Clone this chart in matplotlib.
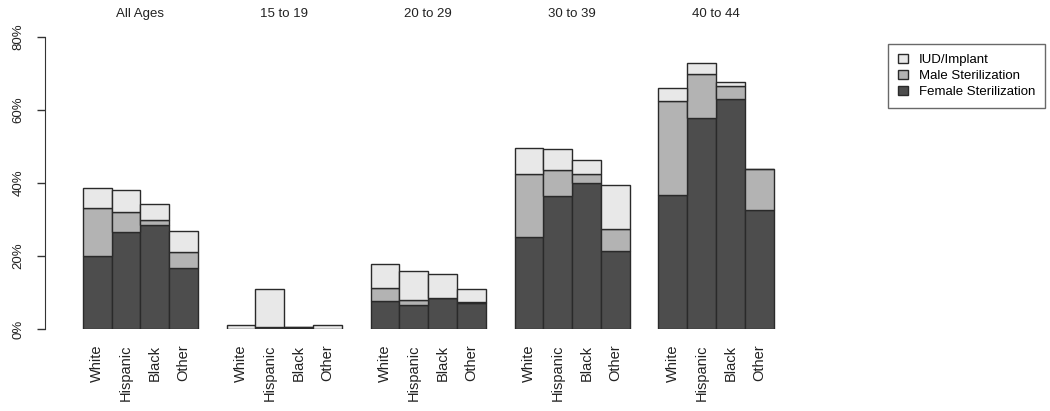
import matplotlib
matplotlib.use('Agg')
import matplotlib.pyplot as plt
import matplotlib.transforms as mtransforms
from matplotlib.patches import Patch
import numpy as np

plt.rcParams['font.family'] = ['Liberation Sans', 'DejaVu Sans']

# ── data (percent) ───────────────────────────────────────────────────────────
age_groups = ['All Ages', '15 to 19', '20 to 29', '30 to 39', '40 to 44']
races = ['White', 'Hispanic', 'Black', 'Other']

female = [[20.1, 26.5, 28.5, 16.7],
          [0.1, 0.5, 0.4, 0.0],
          [7.8, 6.6, 8.5, 7.1],
          [25.3, 36.4, 39.9, 21.5],
          [36.8, 57.9, 63.1, 32.5]]
male = [[13.0, 5.5, 1.5, 4.5],
        [0.0, 0.0, 0.1, 0.0],
        [3.4, 1.5, 0.0, 0.4],
        [17.2, 7.2, 2.5, 5.8],
        [25.6, 11.8, 3.3, 11.4]]
iud = [[5.6, 6.2, 4.2, 5.7],
       [1.2, 10.6, 0.1, 1.2],
       [6.7, 7.9, 6.7, 3.5],
       [7.1, 5.6, 4.0, 12.2],
       [3.6, 3.1, 1.2, 0.0]]

C_FEMALE = '#4d4d4d'
C_MALE = '#b3b3b3'
C_IUD = '#e8e8e8'
EDGE = '#2a2a2a'

fig = plt.figure(figsize=(10.5, 4.11), dpi=100)
ax = fig.add_axes([0.0429, 0.1988, 0.7076, 0.7119])

# bar positions: 4 bars per group, one bar-width gap between groups
pos = []
for g in range(len(age_groups)):
    for i in range(len(races)):
        pos.append(g * 5 + i)
pos = np.array(pos, dtype=float)

f = np.array(female).ravel()
m = np.array(male).ravel()
u = np.array(iud).ravel()

kw = dict(width=1.0, align='edge', edgecolor=EDGE, linewidth=1.0)
ax.bar(pos, f, color=C_FEMALE, **kw)
ax.bar(pos, m, bottom=f, color=C_MALE, **kw)
ax.bar(pos, u, bottom=f + m, color=C_IUD, **kw)

ax.set_xlim(-1.31, 24.5)
ax.set_ylim(0, 80)

for s in ['top', 'right', 'bottom']:
    ax.spines[s].set_visible(False)
ax.spines['left'].set_bounds(0, 80)
ax.spines['left'].set_color('#333333')

ax.set_yticks([0, 20, 40, 60, 80])
ax.set_yticklabels(['0%', '20%', '40%', '60%', '80%'], rotation=90,
                   va='center', fontsize=9.5, color='#222222')
ax.tick_params(axis='y', length=6, width=1, color='#333333', pad=9)

ax.set_xticks(pos + 0.5)
ax.set_xticklabels(races * len(age_groups), rotation=90, va='top',
                   fontsize=10.5, color='#222222')
ax.tick_params(axis='x', length=0, pad=11)

# group titles above each block
trans = mtransforms.blended_transform_factory(ax.transData, fig.transFigure)
for g, name in enumerate(age_groups):
    ax.text(g * 5 + 2, 0.966, name, transform=trans, ha='center', va='center',
            fontsize=9.5, color='#222222')

handles = [Patch(facecolor=C_IUD, edgecolor=EDGE, label='IUD/Implant'),
           Patch(facecolor=C_MALE, edgecolor=EDGE, label='Male Sterilization'),
           Patch(facecolor=C_FEMALE, edgecolor=EDGE, label='Female Sterilization')]
leg = fig.legend(handles=handles, loc='upper left', bbox_to_anchor=(0.8454, 0.893),
                 bbox_transform=fig.transFigure, fancybox=False, fontsize=9.5,
                 handlelength=0.8, handleheight=0.7, handletextpad=0.8,
                 labelspacing=0.3, borderpad=0.75, borderaxespad=0)
leg.get_frame().set_edgecolor('#444444')
leg.get_frame().set_linewidth(1.0)

fig.savefig('out.png', dpi=100, facecolor='white')
